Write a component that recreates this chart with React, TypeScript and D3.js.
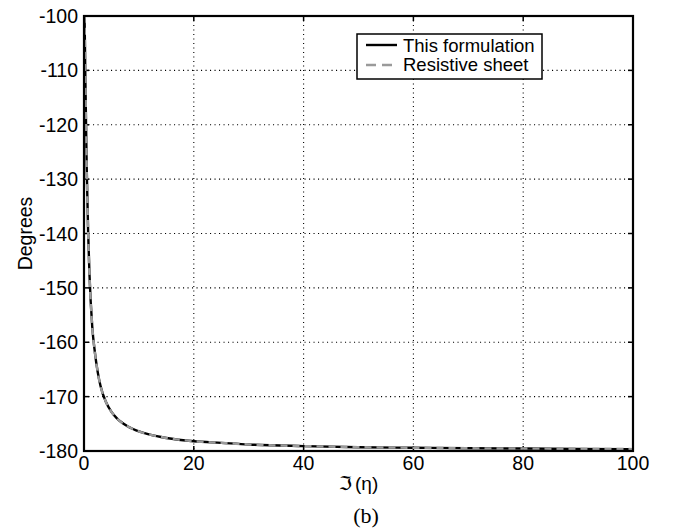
import React from "react";
import * as d3 from "d3";

const xValues = [0, 0.1, 0.25, 0.5, 0.75, 1, 1.5, 2, 2.5, 3, 4, 5, 6, 8, 10, 12, 15, 20, 25, 30, 40, 50, 60, 70, 80, 90, 100];
const thisFormulation = [-100, -101, -111.5, -128.2, -139.7, -147.6, -157.1, -162, -165.5, -168, -171, -172.8, -174, -175.5, -176.4, -177, -177.6, -178.2, -178.5, -178.8, -179.1, -179.3, -179.4, -179.5, -179.55, -179.6, -179.65];
const resistiveSheet = [-100, -101, -111.5, -128.2, -139.7, -147.6, -157.1, -162, -165.5, -168, -171, -172.8, -174, -175.5, -176.4, -177, -177.6, -178.2, -178.5, -178.8, -179.1, -179.3, -179.4, -179.5, -179.55, -179.6, -179.65];
const xTicks = [0, 20, 40, 60, 80, 100];
const yTicks = [-100, -110, -120, -130, -140, -150, -160, -170, -180];
const legendLabels = ["This formulation", "Resistive sheet"];

export default function App() {
  const W = 676, H = 532;
  const L = 84, R = 633, T = 16, B = 451;
  const x = d3.scaleLinear().domain([0, 100]).range([L, R]);
  const y = d3.scaleLinear().domain([-180, -100]).range([B, T]);
  const line = d3.line<number>().x((_, i) => x(xValues[i])).y((d) => y(d)).curve(d3.curveMonotoneX);
  const font = "'Liberation Sans', Arial, Helvetica, sans-serif";
  const grey = "#9a9a9a";
  return (
    <svg width={W} height={H} style={{ position: "absolute", left: 0, top: 0, background: "#fff" }}>
      <defs>
        <clipPath id="plot"><rect x={L} y={T} width={R - L} height={B - T} /></clipPath>
      </defs>
      {xTicks.filter((t) => t !== 0 && t !== 100).map((t) => (
        <line key={"gx" + t} x1={x(t)} x2={x(t)} y1={T} y2={B} stroke="#000" strokeWidth={1.1} strokeDasharray="1.1,3.4" />
      ))}
      {yTicks.filter((t) => t !== -100 && t !== -180).map((t) => (
        <line key={"gy" + t} x1={L} x2={R} y1={y(t)} y2={y(t)} stroke="#000" strokeWidth={1.1} strokeDasharray="1.1,3.4" />
      ))}
      {xTicks.map((t) => (
        <g key={"tx" + t}>
          <line x1={x(t)} x2={x(t)} y1={B} y2={B - 5} stroke="#000" strokeWidth={1.5} />
          <line x1={x(t)} x2={x(t)} y1={T} y2={T + 5} stroke="#000" strokeWidth={1.5} />
          <text x={x(t)} y={470} textAnchor="middle" fontFamily={font} fontSize={19.5}>{t}</text>
        </g>
      ))}
      {yTicks.map((t) => (
        <g key={"ty" + t}>
          <line x1={L} x2={L + 5} y1={y(t)} y2={y(t)} stroke="#000" strokeWidth={1.5} />
          <line x1={R} x2={R - 5} y1={y(t)} y2={y(t)} stroke="#000" strokeWidth={1.5} />
          <text x={78} y={y(t) + 7} textAnchor="end" fontFamily={font} fontSize={19.5}>{t}</text>
        </g>
      ))}
      <g clipPath="url(#plot)">
        <path d={line(thisFormulation) || ""} fill="none" stroke="#000" strokeWidth={2.4} />
        <path d={line(resistiveSheet) || ""} fill="none" stroke={grey} strokeWidth={2.4} strokeDasharray="7,5" />
      </g>
      <rect x={L} y={T} width={R - L} height={B - T} fill="none" stroke="#000" strokeWidth={2.2} />
      <rect x={357} y={34} width={185} height={45} fill="#fff" stroke="#000" strokeWidth={1.5} />
      <line x1={366} x2={397} y1={45} y2={45} stroke="#000" strokeWidth={2.4} />
      <line x1={366} x2={397} y1={65} y2={65} stroke={grey} strokeWidth={2.4} strokeDasharray="10,6" />
      <text x={403} y={51.5} fontFamily={font} fontSize={18.5}>{legendLabels[0]}</text>
      <text x={403} y={71} fontFamily={font} fontSize={18.5}>{legendLabels[1]}</text>
      <text transform={`translate(32,${(T + B) / 2}) rotate(-90)`} textAnchor="middle" fontFamily={font} fontSize={19.5}>Degrees</text>
      <text x={(L + R) / 2} y={490} textAnchor="middle" fontFamily={font} fontSize={19}>
        <tspan fontFamily="'DejaVu Serif', 'DejaVu Sans', serif">ℑ</tspan>
        <tspan dx={3}>(η)</tspan>
      </text>
      <text x={366} y={523} textAnchor="middle" fontFamily="'Liberation Serif', 'Times New Roman', serif" fontSize={22}>(b)</text>
    </svg>
  );
}
